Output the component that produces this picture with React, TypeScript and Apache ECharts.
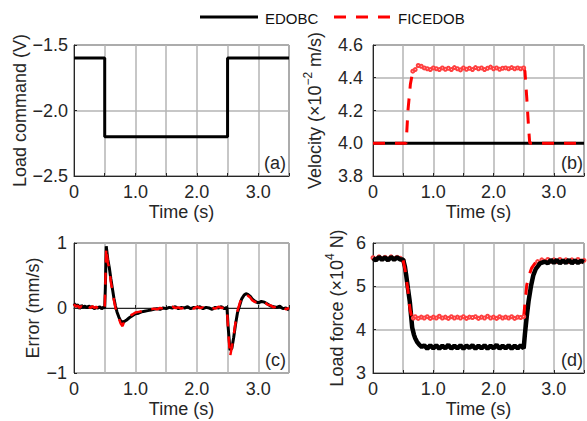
import React, { useEffect, useRef } from "react";
import * as echarts from "echarts";

const FONT = '"Liberation Sans", Arial, Helvetica, sans-serif';
const TXT = "#262626";
const GRIDC = "#b4b4b4";
const BLACK = "#000000";
const RED = "#ff0000";

const seriesNames = ["EDOBC", "FICEDOB"];
const panelLabels = ["(a)", "(b)", "(c)", "(d)"];
const xTickLabels = ["0", "1.0", "2.0", "3.0"];

// (a) Load command (V)
const loadCmdEdobc: [number, number][] = [
  [0, -1.6], [0.5, -1.6], [0.5, -2.2], [2.5, -2.2], [2.5, -1.6], [3.5, -1.6],
];

// (b) Velocity (x10^-2 m/s)
const velEdobc: [number, number][] = [[0, 4.0], [3.5, 4.0]];
// FICEDOB, split into steep (dashed) and steady (dotted) segments
const velFicedobRise: [number, number][] = [
  [0, 4.0], [0.3, 4.0], [0.55, 4.0], [0.58, 4.2], [0.62, 4.36], [0.66, 4.44], [0.7, 4.45],
];
const velFicedobFlat: [number, number][] = [
  [0.66, 4.44], [0.7, 4.45], [0.75, 4.475], [0.8, 4.47], [0.85, 4.46], [0.9, 4.455], [0.95, 4.45],
  [1.0, 4.46], [1.05, 4.455], [1.1, 4.45], [1.15, 4.46], [1.2, 4.452], [1.25, 4.458],
  [1.3, 4.45], [1.35, 4.462], [1.4, 4.455], [1.45, 4.448], [1.5, 4.46], [1.55, 4.452],
  [1.6, 4.458], [1.65, 4.45], [1.7, 4.462], [1.75, 4.455], [1.8, 4.46], [1.85, 4.45],
  [1.9, 4.458], [1.95, 4.465], [2.0, 4.455], [2.05, 4.46], [2.1, 4.452], [2.15, 4.458],
  [2.2, 4.46], [2.25, 4.455], [2.3, 4.462], [2.35, 4.455], [2.4, 4.46], [2.45, 4.455],
  [2.5, 4.46],
];
const velFicedobFall: [number, number][] = [
  [2.5, 4.46], [2.52, 4.44], [2.55, 4.28], [2.58, 4.1], [2.6, 4.0], [3.0, 4.0], [3.5, 4.0],
];

// (c) Error (mm/s)
const errEdobc: [number, number][] = [
  [0, 0.07], [0.03, 0.03], [0.06, 0.05], [0.09, -0.01], [0.12, 0.04], [0.15, 0.01],
  [0.18, 0.03], [0.21, 0.0], [0.24, 0.03], [0.27, 0.01], [0.3, 0.02], [0.33, -0.01],
  [0.36, 0.01], [0.39, 0.0], [0.42, 0.02], [0.45, -0.01], [0.48, 0.01], [0.5, 0.0],
  [0.51, 0.3], [0.525, 0.95], [0.55, 0.75], [0.575, 0.62], [0.6, 0.45], [0.625, 0.3],
  [0.65, 0.15], [0.675, 0.03], [0.7, -0.06], [0.73, -0.14], [0.76, -0.2], [0.8, -0.22],
  [0.85, -0.19], [0.9, -0.15], [0.95, -0.12], [1.0, -0.09], [1.05, -0.08], [1.1, -0.06],
  [1.15, -0.05], [1.2, -0.04], [1.25, -0.03], [1.3, -0.02], [1.35, -0.01], [1.4, -0.02],
  [1.45, 0.0], [1.5, -0.01], [1.55, 0.01], [1.6, 0.0], [1.65, 0.02], [1.7, -0.01],
  [1.75, 0.01], [1.8, 0.0], [1.85, 0.02], [1.9, -0.01], [1.95, 0.01], [2.0, 0.0],
  [2.05, 0.02], [2.1, -0.01], [2.15, 0.01], [2.2, 0.0], [2.25, -0.02], [2.3, 0.01],
  [2.35, 0.0], [2.4, 0.02], [2.45, -0.01], [2.49, 0.01], [2.51, -0.3], [2.54, -0.65],
  [2.57, -0.62], [2.6, -0.45], [2.63, -0.25], [2.66, -0.08], [2.7, 0.05], [2.73, 0.14],
  [2.77, 0.2], [2.8, 0.22], [2.83, 0.21], [2.87, 0.18], [2.9, 0.14], [2.95, 0.1],
  [3.0, 0.08], [3.05, 0.1], [3.1, 0.09], [3.15, 0.06], [3.2, 0.03], [3.25, 0.02],
  [3.3, 0.01], [3.35, 0.03], [3.4, -0.01], [3.45, 0.0], [3.5, -0.03],
];
const errFicedob: [number, number][] = [
  [0, 0.06], [0.03, 0.02], [0.06, 0.04], [0.09, 0.0], [0.12, 0.03], [0.15, 0.0],
  [0.18, 0.04], [0.21, 0.01], [0.24, 0.02], [0.27, 0.0], [0.3, 0.03], [0.33, 0.0],
  [0.36, 0.02], [0.39, -0.01], [0.42, 0.01], [0.45, 0.0], [0.48, 0.02], [0.5, 0.0],
  [0.51, 0.35], [0.525, 0.93], [0.55, 0.7], [0.575, 0.6], [0.6, 0.4], [0.625, 0.27],
  [0.65, 0.12], [0.675, 0.0], [0.7, -0.08], [0.73, -0.16], [0.76, -0.24], [0.79, -0.28],
  [0.82, -0.2], [0.85, -0.16], [0.9, -0.12], [0.95, -0.1], [1.0, -0.07], [1.05, -0.06],
  [1.1, -0.05], [1.15, -0.03], [1.2, -0.03], [1.25, -0.02], [1.3, -0.01], [1.35, -0.02],
  [1.4, 0.0], [1.45, -0.01], [1.5, 0.01], [1.55, 0.0], [1.6, 0.02], [1.65, 0.0],
  [1.7, 0.01], [1.75, -0.01], [1.8, 0.02], [1.85, 0.0], [1.9, 0.01], [1.95, -0.01],
  [2.0, 0.02], [2.05, 0.0], [2.1, 0.01], [2.15, -0.01], [2.2, 0.02], [2.25, 0.0],
  [2.3, -0.01], [2.35, 0.02], [2.4, 0.0], [2.45, 0.01], [2.49, 0.0], [2.51, -0.35],
  [2.54, -0.75], [2.57, -0.6], [2.6, -0.42], [2.63, -0.22], [2.66, -0.05], [2.7, 0.08],
  [2.73, 0.16], [2.77, 0.21], [2.8, 0.2], [2.83, 0.19], [2.87, 0.16], [2.9, 0.12],
  [2.95, 0.09], [3.0, 0.1], [3.05, 0.08], [3.1, 0.1], [3.15, 0.05], [3.2, 0.04],
  [3.25, 0.01], [3.3, 0.02], [3.35, 0.0], [3.4, 0.02], [3.45, -0.02], [3.5, 0.0],
];

// (d) Load force (x10^4 N)
const forceEdobc: [number, number][] = [
  [0, 5.65], [0.05, 5.6], [0.1, 5.68], [0.15, 5.61], [0.2, 5.67], [0.25, 5.6],
  [0.3, 5.68], [0.35, 5.61], [0.4, 5.67], [0.45, 5.62], [0.5, 5.62], [0.53, 5.45],
  [0.55, 5.26], [0.58, 4.95], [0.61, 4.65], [0.63, 4.35], [0.65, 4.05], [0.68, 3.88],
  [0.7, 3.8], [0.73, 3.72], [0.77, 3.65], [0.81, 3.6], [0.85, 3.64], [0.9, 3.56],
  [0.95, 3.64], [1.0, 3.57], [1.05, 3.64], [1.1, 3.56], [1.15, 3.63], [1.2, 3.57],
  [1.25, 3.65], [1.3, 3.56], [1.35, 3.63], [1.4, 3.57], [1.45, 3.64], [1.5, 3.56],
  [1.55, 3.63], [1.6, 3.58], [1.65, 3.64], [1.7, 3.56], [1.75, 3.63], [1.8, 3.57],
  [1.85, 3.64], [1.9, 3.56], [1.95, 3.63], [2.0, 3.57], [2.05, 3.65], [2.1, 3.56],
  [2.15, 3.63], [2.2, 3.57], [2.25, 3.64], [2.3, 3.56], [2.35, 3.63], [2.4, 3.57],
  [2.45, 3.64], [2.5, 3.57], [2.52, 3.9], [2.55, 4.3], [2.58, 4.65], [2.62, 5.0],
  [2.66, 5.26], [2.7, 5.4], [2.77, 5.53], [2.85, 5.57], [2.9, 5.53], [2.95, 5.61],
  [3.0, 5.54], [3.05, 5.61], [3.1, 5.53], [3.15, 5.6], [3.2, 5.54], [3.25, 5.61],
  [3.3, 5.53], [3.35, 5.6], [3.4, 5.54], [3.45, 5.59], [3.5, 5.56],
];
const forceFicedobStart: [number, number][] = [
  [0, 5.66], [0.05, 5.63], [0.1, 5.68], [0.15, 5.64], [0.2, 5.67], [0.25, 5.63],
  [0.3, 5.68], [0.35, 5.64], [0.4, 5.67], [0.45, 5.65], [0.5, 5.6],
];
const forceFicedobDrop: [number, number][] = [
  [0.5, 5.6], [0.53, 5.4], [0.55, 5.2], [0.58, 4.9], [0.6, 4.62], [0.62, 4.42], [0.64, 4.32], [0.67, 4.27],
];
const forceFicedobFlat: [number, number][] = [
  [0.67, 4.27], [0.7, 4.3], [0.75, 4.26], [0.8, 4.29], [0.85, 4.27], [0.9, 4.3], [0.95, 4.26],
  [1.0, 4.29], [1.05, 4.27], [1.1, 4.31], [1.15, 4.27], [1.2, 4.29], [1.25, 4.26],
  [1.3, 4.3], [1.35, 4.27], [1.4, 4.29], [1.45, 4.27], [1.5, 4.3], [1.55, 4.26],
  [1.6, 4.29], [1.65, 4.28], [1.7, 4.3], [1.75, 4.26], [1.8, 4.29], [1.85, 4.27],
  [1.9, 4.31], [1.95, 4.27], [2.0, 4.29], [2.05, 4.26], [2.1, 4.3], [2.15, 4.27],
  [2.2, 4.29], [2.25, 4.27], [2.3, 4.3], [2.35, 4.26], [2.4, 4.29], [2.45, 4.28],
  [2.5, 4.3],
];
const forceFicedobRise: [number, number][] = [
  [2.5, 4.3], [2.52, 4.6], [2.55, 5.03], [2.6, 5.3], [2.63, 5.42], [2.68, 5.52], [2.73, 5.57],
];
const forceFicedobEnd: [number, number][] = [
  [2.73, 5.57], [2.8, 5.61], [2.85, 5.58], [2.9, 5.62], [2.95, 5.58], [3.0, 5.61],
  [3.05, 5.57], [3.1, 5.62], [3.15, 5.58], [3.2, 5.61], [3.25, 5.57], [3.3, 5.61],
  [3.35, 5.58], [3.4, 5.62], [3.45, 5.58], [3.5, 5.6],
];

const grids = [
  { left: 74, top: 45, width: 215, height: 131 },
  { left: 373, top: 45, width: 213, height: 131 },
  { left: 74, top: 243, width: 215, height: 130 },
  { left: 373, top: 243, width: 213, height: 130 },
];

const yCfg = [
  { min: -2.5, max: -1.5, interval: 0.5, name: "Load command (V)", gap: 44, dec: 1, margin: 6 },
  { min: 3.8, max: 4.6, interval: 0.2, name: "{n|Velocity (×10}{s|−2}{n| m/s)}", gap: 49, dec: 1, margin: 10 },
  { min: -1, max: 1, interval: 1, name: "Error (mm/s)", gap: 32, dec: 0, margin: 7 },
  { min: 3, max: 6, interval: 1, name: "{n|Load force (×10}{s|4}{n| N)}", gap: 27, dec: 0, margin: 7 },
];

export default function App() {
  const ref = useRef<HTMLDivElement>(null);
  useEffect(() => {
    if (!ref.current) return;
    const chart = echarts.init(ref.current, null, { renderer: "svg" });

    const xAxis = grids.map((_, i) => ({
      type: "value",
      gridIndex: i,
      min: 0,
      max: 3.5,
      interval: 0.5,
      name: "Time (s)",
      nameLocation: "middle",
      nameGap: 27,
      nameTextStyle: { fontSize: 18, color: TXT, fontFamily: FONT },
      axisLine: { show: true, lineStyle: { color: TXT, width: 1 } },
      axisTick: { show: true, inside: true, length: 3, lineStyle: { color: TXT } },
      axisLabel: {
        margin: 7,
        fontSize: 18,
        color: TXT,
        fontFamily: FONT,
        hideOverlap: false,
        showMaxLabel: true,
        showMinLabel: true,
        formatter: (v: number) => {
          const r = Math.round(v);
          if (Math.abs(v - r) > 1e-6) return "";
          return xTickLabels[r] ?? "";
        },
      },
      splitLine: { show: true, lineStyle: { color: GRIDC, width: 1.5 } },
    }));

    const yAxis = yCfg.map((c, i) => ({
      type: "value",
      gridIndex: i,
      min: c.min,
      max: c.max,
      interval: c.interval,
      name: c.name,
      nameLocation: "middle",
      nameGap: c.gap,
      nameRotate: 90,
      nameTextStyle: {
        fontSize: 18,
        color: TXT,
        fontFamily: FONT,
        rich: {
          n: { fontSize: 18, color: TXT, fontFamily: FONT, padding: [4, 0, 0, 0] },
          s: { fontSize: 12, color: TXT, fontFamily: FONT, verticalAlign: "top" },
        },
      },
      axisLine: { show: true, lineStyle: { color: TXT, width: 1 } },
      axisTick: { show: true, inside: true, length: 3, lineStyle: { color: TXT } },
      axisLabel: {
        margin: c.margin,
        fontSize: 18,
        color: TXT,
        fontFamily: FONT,
        formatter: (v: number) => v.toFixed(c.dec).replace("-", "−"),
      },
      splitLine: { show: true, lineStyle: { color: GRIDC, width: 1.5 } },
    }));

    const blackLine = (data: [number, number][], i: number, w = 3) => ({
      type: "line",
      name: seriesNames[0],
      xAxisIndex: i,
      yAxisIndex: i,
      data,
      showSymbol: false,
      symbol: "none",
      lineStyle: { color: BLACK, width: w },
      z: 3,
    });
    const redDashed = (data: [number, number][], i: number, w = 3) => ({
      type: "line",
      name: seriesNames[1],
      xAxisIndex: i,
      yAxisIndex: i,
      data,
      showSymbol: false,
      symbol: "none",
      lineStyle: { color: RED, width: w, type: [12, 10] },
      z: 4,
    });
    const redDotted = (data: [number, number][], i: number, z = 4) => ({
      type: "line",
      name: seriesNames[1],
      xAxisIndex: i,
      yAxisIndex: i,
      data,
      showSymbol: true,
      symbol: "emptyCircle",
      symbolSize: 3,
      itemStyle: { color: "#ff4040", borderColor: "#ff3030", borderWidth: 0.8 },
      lineStyle: { color: "#ff2020", width: 1.2, type: [2, 1.5] },
      z,
    });

    const graphic: any[] = [
      {
        type: "line",
        shape: { x1: 200, y1: 17, x2: 258, y2: 17 },
        style: { stroke: BLACK, lineWidth: 3 },
      },
      {
        type: "text",
        x: 265,
        y: 18,
        style: { text: seriesNames[0], font: `15px ${FONT}`, fill: "#111", textVerticalAlign: "middle" },
      },
      {
        type: "line",
        shape: { x1: 334, y1: 17, x2: 390, y2: 17 },
        style: { stroke: RED, lineWidth: 3, lineDash: [12, 10] },
      },
      {
        type: "text",
        x: 398,
        y: 18,
        style: { text: seriesNames[1], font: `15px ${FONT}`, fill: "#111", textVerticalAlign: "middle" },
      },
    ];
    grids.forEach((g, i) => {
      graphic.push({
        type: "text",
        x: g.left + g.width - 3,
        y: g.top + g.height - 13,
        z: 10,
        style: {
          text: panelLabels[i],
          font: `18px ${FONT}`,
          fill: TXT,
          textAlign: "right",
          textVerticalAlign: "middle",
        },
      });
    });

    chart.setOption({
      animation: false,
      backgroundColor: "#ffffff",
      grid: grids.map((g) => ({ ...g, show: true, borderColor: TXT, borderWidth: 1, backgroundColor: "transparent" })),
      xAxis,
      yAxis,
      series: [
        blackLine(loadCmdEdobc, 0),
        blackLine(velEdobc, 1),
        redDashed(velFicedobRise, 1),
        redDotted(velFicedobFlat, 1),
        redDashed(velFicedobFall, 1),
        blackLine(errEdobc, 2),
        redDashed(errFicedob, 2, 2.5),
        redDotted(forceFicedobStart, 3, 2),
        redDotted(forceFicedobEnd, 3, 2),
        blackLine(forceEdobc, 3, 4.5),
        redDashed(forceFicedobDrop, 3),
        redDotted(forceFicedobFlat, 3),
        redDashed(forceFicedobRise, 3),
      ],
      graphic,
    });
    return () => chart.dispose();
  }, []);
  return (
    <div
      ref={ref}
      style={{ position: "fixed", left: 0, top: 0, width: 587, height: 421 }}
    />
  );
}
